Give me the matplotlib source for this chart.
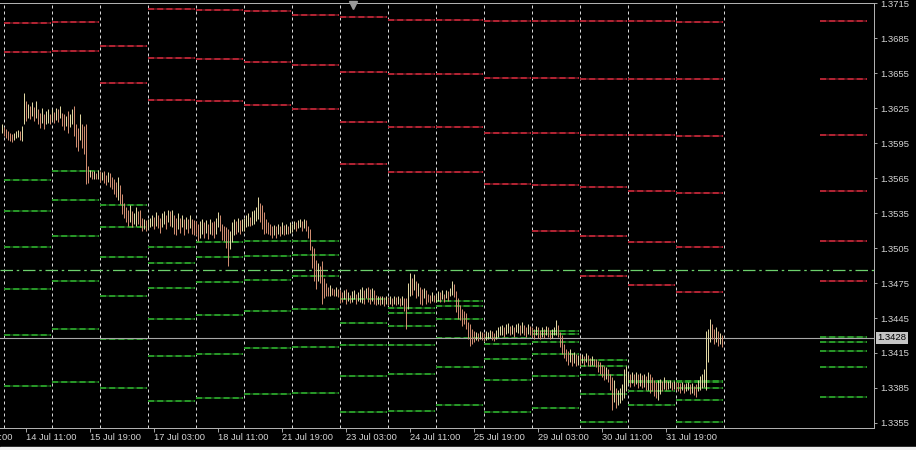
import matplotlib.pyplot as plt
import numpy as np
from matplotlib.transforms import blended_transform_factory
from matplotlib.patches import Rectangle

plt.rcParams['font.family'] = ['Liberation Sans', 'DejaVu Sans']

# H1 bars from 11 Jul 23:00 to 01 Aug 23:00, prices in pips (x 1e-4)
high = [13611,
        13609, 13607, 13605, 13604, 13603, 13604, 13605, 13606, 13605, 13610, 13638, 13631,
        13629, 13627, 13630, 13626, 13631, 13624, 13621, 13625, 13620, 13623, 13624, 13620,
        13624, 13622, 13625, 13624, 13627, 13621, 13620, 13618, 13623, 13620, 13624, 13627,
        13611, 13608, 13620, 13611, 13610, 13611, 13575, 13572, 13571, 13571, 13569, 13572,
        13571, 13570, 13571, 13568, 13570, 13569, 13566, 13564, 13562, 13566, 13559, 13551,
        13544, 13540, 13538, 13542, 13537, 13535, 13540, 13537, 13538, 13531, 13530, 13529,
        13530, 13531, 13533, 13532, 13536, 13533, 13531, 13535, 13537, 13533, 13538, 13537,
        13538, 13533, 13531, 13535, 13531, 13533, 13530, 13532, 13530, 13533, 13530, 13529,
        13528, 13526, 13528, 13530, 13527, 13529, 13526, 13530, 13527, 13528, 13531, 13536,
        13533, 13526, 13524, 13523, 13521, 13520, 13527, 13530, 13528, 13531, 13529, 13530,
        13531, 13533, 13535, 13532, 13537, 13538, 13540, 13549, 13544, 13542, 13536, 13530,
        13527, 13526, 13524, 13525, 13524, 13526, 13524, 13527, 13525, 13526, 13524, 13527,
        13526, 13528, 13527, 13529, 13530, 13528, 13530, 13529, 13524, 13521, 13507, 13505,
        13495, 13492, 13490, 13494, 13479, 13475, 13472, 13473, 13471, 13470, 13472, 13470,
        13469, 13467, 13469, 13470, 13467, 13465, 13468, 13469, 13466, 13467, 13470, 13472,
        13469, 13471, 13472, 13470, 13471, 13469, 13465, 13464, 13464, 13464, 13463, 13464,
        13463, 13464, 13462, 13464, 13463, 13464, 13462, 13464, 13462, 13462, 13475, 13484,
        13479, 13483, 13477, 13475, 13472, 13470, 13471, 13469, 13466, 13465, 13467, 13465,
        13466, 13468, 13467, 13469, 13466, 13469, 13468, 13471, 13477, 13474, 13468, 13462,
        13456, 13453, 13451, 13449, 13442, 13440, 13436, 13434, 13433, 13432, 13434, 13433,
        13432, 13434, 13433, 13435, 13434, 13432, 13435, 13437, 13438, 13439, 13437, 13440,
        13441, 13438, 13439, 13437, 13440, 13441, 13439, 13442, 13439, 13437, 13440, 13438,
        13437, 13436, 13438, 13437, 13435, 13437, 13436, 13438, 13437, 13435, 13436, 13437,
        13443, 13439, 13433, 13430, 13423, 13418, 13417, 13418, 13415, 13416, 13414, 13413,
        13413, 13414, 13412, 13415, 13413, 13411, 13412, 13410, 13410, 13408, 13407, 13405,
        13404, 13403, 13401, 13397, 13394, 13392, 13385, 13383, 13385, 13388, 13401, 13404,
        13398, 13397, 13399, 13397, 13399, 13397, 13398, 13396, 13397, 13395, 13399, 13397,
        13394, 13392, 13390, 13392, 13393, 13391, 13394, 13392, 13391, 13392, 13390, 13391,
        13390, 13390, 13389, 13390, 13388, 13389, 13390, 13388, 13389, 13387, 13388, 13392,
        13395, 13397, 13401, 13434, 13436, 13444, 13440, 13436, 13437, 13434, 13432, 13430]
low = [13604,
       13601, 13599, 13598, 13597, 13596, 13598, 13599, 13600, 13598, 13597, 13611, 13614,
       13617, 13616, 13618, 13614, 13617, 13611, 13608, 13612, 13607, 13611, 13612, 13611,
       13614, 13612, 13615, 13613, 13617, 13610, 13606, 13610, 13604, 13609, 13611, 13601,
       13592, 13588, 13598, 13591, 13586, 13560, 13561, 13566, 13564, 13564, 13564, 13564,
       13562, 13563, 13561, 13559, 13562, 13557, 13556, 13551, 13549, 13546, 13543, 13534,
       13531, 13527, 13524, 13527, 13523, 13526, 13524, 13526, 13523, 13520, 13521, 13520,
       13521, 13523, 13524, 13521, 13524, 13522, 13518, 13523, 13526, 13521, 13527, 13524,
       13523, 13517, 13516, 13521, 13518, 13523, 13516, 13521, 13518, 13522, 13517, 13516,
       13516, 13511, 13514, 13517, 13514, 13518, 13513, 13517, 13516, 13514, 13517, 13523,
       13520, 13512, 13511, 13505, 13490, 13504, 13510, 13516, 13517, 13519, 13517, 13520,
       13520, 13523, 13524, 13524, 13525, 13526, 13528, 13530, 13527, 13521, 13517, 13518,
       13517, 13516, 13514, 13516, 13514, 13517, 13515, 13517, 13516, 13517, 13517, 13518,
       13519, 13521, 13520, 13522, 13523, 13520, 13522, 13520, 13514, 13503, 13488, 13477,
       13470, 13477, 13475, 13457, 13462, 13464, 13464, 13464, 13465, 13464, 13464, 13463,
       13458, 13459, 13461, 13457, 13460, 13458, 13459, 13461, 13457, 13460, 13459, 13458,
       13457, 13462, 13459, 13457, 13460, 13457, 13456, 13457, 13456, 13457, 13455, 13457,
       13456, 13457, 13455, 13457, 13456, 13457, 13455, 13456, 13451, 13436, 13453, 13464,
       13465, 13469, 13462, 13464, 13457, 13456, 13462, 13457, 13459, 13458, 13460, 13459,
       13459, 13460, 13459, 13461, 13459, 13462, 13460, 13464, 13465, 13463, 13450, 13444,
       13443, 13438, 13440, 13436, 13427, 13421, 13423, 13424, 13426, 13425, 13427, 13426,
       13425, 13426, 13427, 13428, 13426, 13425, 13427, 13429, 13430, 13430, 13429, 13431,
       13432, 13430, 13431, 13429, 13433, 13432, 13430, 13432, 13430, 13429, 13431, 13430,
       13429, 13427, 13430, 13428, 13427, 13429, 13428, 13430, 13429, 13427, 13428, 13430,
       13430, 13429, 13420, 13414, 13411, 13408, 13405, 13407, 13404, 13406, 13404, 13405,
       13404, 13406, 13404, 13407, 13404, 13404, 13405, 13404, 13403, 13399, 13397, 13394,
       13392, 13393, 13390, 13383, 13366, 13373, 13368, 13370, 13372, 13375, 13376, 13382,
       13388, 13386, 13389, 13387, 13388, 13385, 13387, 13385, 13386, 13383, 13383, 13381,
       13382, 13378, 13376, 13375, 13380, 13382, 13384, 13383, 13384, 13385, 13383, 13384,
       13383, 13382, 13381, 13383, 13381, 13382, 13383, 13380, 13381, 13379, 13377, 13382,
       13383, 13385, 13386, 13383, 13407, 13424, 13427, 13423, 13424, 13421, 13423, 13420]

# daily pivot levels (pips); last row is the next day, drawn in the shift area
level_days = [0, 1, 2, 3, 4, 5, 6, 7, 8, 9, 10, 11, 12, 13, 14, 17]
red_levels = [
    [13698, 13673],
    [13699, 13674],
    [13716, 13678, 13647],
    [13710, 13668, 13632],
    [13709, 13667, 13631],
    [13708, 13665, 13628],
    [13705, 13662, 13624],
    [13703, 13656, 13613, 13577],
    [13701, 13654, 13609, 13570],
    [13701, 13654, 13609, 13570],
    [13700, 13651, 13604, 13560],
    [13700, 13651, 13604, 13559, 13520],
    [13700, 13650, 13602, 13557, 13515, 13481],
    [13700, 13650, 13602, 13554, 13510, 13473],
    [13699, 13650, 13601, 13552, 13506, 13467],
    [13700, 13650, 13602, 13554, 13511, 13477],
]
green_levels = [
    [13563, 13537, 13506, 13470, 13430, 13387],
    [13571, 13546, 13515, 13477, 13436, 13390],
    [13542, 13523, 13497, 13464, 13427, 13385],
    [13506, 13492, 13471, 13444, 13412, 13374],
    [13510, 13497, 13476, 13448, 13414, 13376],
    [13511, 13498, 13478, 13451, 13419, 13380],
    [13511, 13499, 13481, 13453, 13420, 13381],
    [13461, 13441, 13422, 13395, 13364],
    [13454, 13449, 13438, 13422, 13397, 13365],
    [13460, 13455, 13444, 13428, 13403, 13370],
    [13428, 13423, 13410, 13392, 13364],
    [13434, 13431, 13424, 13414, 13395, 13368],
    [13409, 13404, 13396, 13380, 13356],
    [13391, 13390, 13382, 13370],
    [13391, 13390, 13385, 13375, 13356],
    [13429, 13424, 13417, 13403, 13377],
]
weekly_level = 1.3486
bid = 1.3428

price_ticks = [1.3355, 1.3385, 1.3415, 1.3445, 1.3475, 1.3505, 1.3535,
               1.3565, 1.3595, 1.3625, 1.3655, 1.3685, 1.3715]
time_labels = ['11 Jul 03:00', '14 Jul 11:00', '15 Jul 19:00', '17 Jul 03:00',
               '18 Jul 11:00', '21 Jul 19:00', '23 Jul 03:00', '24 Jul 11:00',
               '25 Jul 19:00', '29 Jul 03:00', '30 Jul 11:00', '31 Jul 19:00']
time_label_bars = [-21, 11, 43, 75, 107, 139, 171, 203, 235, 267, 299, 331]

bars_per_day = 24
n_days = 15

high = np.array(high) * 1e-4
low = np.array(low) * 1e-4
x = np.arange(-1, len(high) - 1)

fig = plt.figure(figsize=(9.16, 4.5), dpi=100, facecolor='black')
ax = fig.add_axes([0, 22 / 450, 874 / 916, 425.5 / 450])
ax.set_facecolor('black')
ax.set_xlim(-1.75, 435.25)
ax.set_ylim(1.335065, 1.371565)

px = 0.72  # one pixel in points

# day separators
for d in range(n_days + 1):
    ax.axvline(d * bars_per_day, color='#d8d8d8', lw=px, dashes=(3, 3), zorder=1)

# pivot levels
for d, reds, greens in zip(level_days, red_levels, green_levels):
    x0 = d * bars_per_day + 0.4
    x1 = x0 + bars_per_day - 0.8
    for lv in reds:
        ax.hlines(lv * 1e-4, x0, x1, color='#6a121c', lw=1.1, zorder=2)
        ax.hlines(lv * 1e-4, x0, x1, color='#cc2a3c', lw=1.1, linestyles=(0, (4, 2)), zorder=2)
    for lv in greens:
        ax.hlines(lv * 1e-4, x0, x1, color='#125012', lw=1.1, zorder=2)
        ax.hlines(lv * 1e-4, x0, x1, color='#30b030', lw=1.1, linestyles=(0, (4, 2)), zorder=2)

ax.axhline(weekly_level, color='#6cd06c', lw=0.9, dashes=(10, 3, 2, 3), zorder=2)
ax.axhline(bid, color='#a8a8a8', lw=0.8, zorder=2)

# price bars
mid = (high + low) / 2
up = np.concatenate([[True], mid[1:] >= mid[:-1]])
colors = np.where(up, '#e0d6a2', '#cf8c70')
ax.vlines(x, low, high, colors=colors, lw=px, zorder=3)

# right price scale
ax.yaxis.tick_right()
ax.set_yticks(price_ticks)
ax.set_yticklabels(['%.4f' % p for p in price_ticks])
ax.tick_params(axis='y', colors='#a0a0a0', labelcolor='#d4d4d4', labelsize=6.8,
               length=2.5, width=px, pad=2)
ax.set_xticks(time_label_bars[1:])
ax.set_xticklabels([])
ax.tick_params(axis='x', colors='#a0a0a0', length=3, width=px)

tb = blended_transform_factory(ax.transData, ax.transAxes)
for xb, lab in zip(time_label_bars, time_labels):
    ax.text(xb, -0.0235, lab, transform=tb, ha='left', va='center',
            color='#d4d4d4', fontsize=6.7, clip_on=False)

ta = blended_transform_factory(ax.transAxes, ax.transData)
ax.text(1.004, bid, '%.4f' % bid, transform=ta, ha='left', va='center', fontsize=6.8,
        color='black', clip_on=False,
        bbox=dict(boxstyle='square,pad=0.15', fc='#c4c4c4', ec='none'))

# chart shift marker
ax.plot([174.75], [0.993], marker='v', ms=6, color='#9a9a9a', transform=tb,
        clip_on=False, zorder=5)

for side in ['top', 'right', 'bottom']:
    ax.spines[side].set_color('#b0b0b0')
    ax.spines[side].set_linewidth(px)
ax.spines['left'].set_visible(False)

fig.patches.append(Rectangle((0, 0), 1, 3.2 / 450, transform=fig.transFigure,
                             color='#f0f0f0', zorder=10))

fig.savefig('out.png', dpi=100, facecolor='black')
